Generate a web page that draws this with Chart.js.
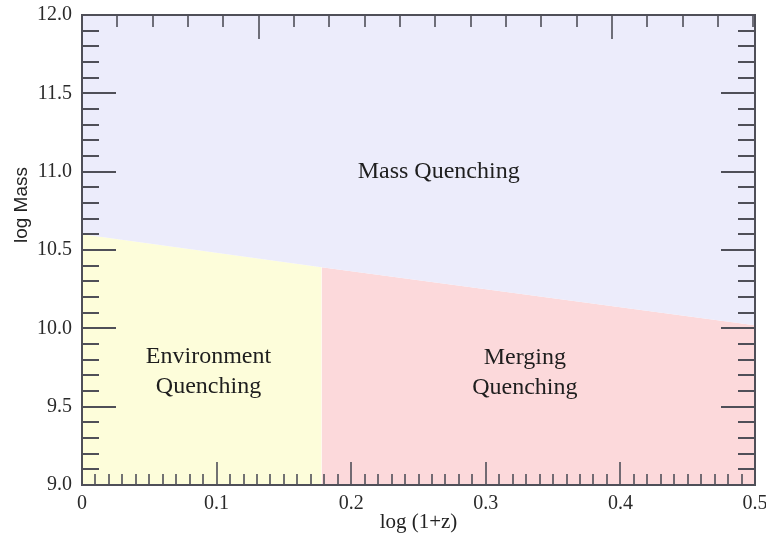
<!DOCTYPE html>
<html>
<head>
<meta charset="utf-8">
<script src="https://cdn.jsdelivr.net/npm/chart.js@4/dist/chart.umd.min.js"></script>
<style>
  html, body { margin: 0; padding: 0; background: #ffffff; }
  #wrap { width: 766px; height: 542px; }
</style>
</head>
<body>
<div id="wrap"><canvas id="c" width="766" height="542"></canvas></div>
<script>
// Boundary between quenching regimes: log Mass threshold against log(1+z)
const boundaryX = [0, 0.178, 0.5];
const boundaryMass = [10.6, 10.39, 10.02];

// Axis ranges and tick labels
const xTickLabels = ['0', '0.1', '0.2', '0.3', '0.4', '0.5'];
const yTickLabels = ['9.0', '9.5', '10.0', '10.5', '11.0', '11.5', '12.0'];

// Region names and where they sit (data coordinates)
const regionNames = [['Mass Quenching'], ['Environment', 'Quenching'], ['Merging', 'Quenching']];
const regionX = [0.265, 0.094, 0.329];
const regionY = [11.0, 9.72, 9.715];

const colMass = '#ececfb';
const colEnv = '#fdfdda';
const colMerge = '#fcd9db';
const axisColor = '#4f4f58';
const serif = '"Liberation Serif", "Times New Roman", serif';
const sans = '"Liberation Sans", Arial, sans-serif';

const pts = (i0, i1) => boundaryX.slice(i0, i1 + 1).map((x, k) => ({ x, y: boundaryMass[i0 + k] }));

// keep tick labels from widening the outer margins
const noLabelPadding = (s) => { s.paddingTop = 0; s.paddingBottom = 0; s.paddingLeft = 0; s.paddingRight = 0; };

const decorations = {
  id: 'decorations',
  afterDatasetsDraw(chart) {
    const { ctx, chartArea: a, scales: { x, y } } = chart;
    ctx.save();
    ctx.strokeStyle = axisColor;
    ctx.lineCap = 'butt';
    const seg = (x1, y1, x2, y2) => { ctx.beginPath(); ctx.moveTo(x1, y1); ctx.lineTo(x2, y2); ctx.stroke(); };

    // left and right ticks: minor every 0.1, major every 0.5
    ctx.lineWidth = 2;
    for (let i = 1; i < 30; i++) {
      const py = Math.round(y.getPixelForValue(9 + i * 0.1));
      const len = i % 5 === 0 ? 34 : 17;
      seg(a.left, py, a.left + len, py);
      seg(a.right, py, a.right - len, py);
    }
    // bottom ticks: minor every 0.01, major every 0.1
    ctx.lineWidth = 1.6;
    for (let i = 1; i < 50; i++) {
      const px = Math.round(x.getPixelForValue(i * 0.01));
      const len = i % 10 === 0 ? 23 : 11;
      seg(px, a.bottom, px, a.bottom - len);
    }
    // top ticks
    const topStep = 0.02625;
    for (let k = 1; k * topStep < 0.5; k++) {
      const px = Math.round(x.getPixelForValue(k * topStep));
      const len = k % 10 === 5 ? 24 : 12;
      seg(px, a.top, px, a.top + len);
    }
    // frame
    ctx.lineWidth = 2;
    ctx.strokeRect(a.left, a.top, a.right - a.left, a.bottom - a.top);

    // region names
    ctx.fillStyle = '#1e1e1e';
    ctx.font = '24px ' + serif;
    ctx.textAlign = 'center';
    ctx.textBaseline = 'middle';
    regionNames.forEach((lines, i) => {
      const cx = x.getPixelForValue(regionX[i]);
      const cy = y.getPixelForValue(regionY[i]);
      const lh = 30;
      lines.forEach((t, j) => ctx.fillText(t, cx, cy + (j - (lines.length - 1) / 2) * lh));
    });

    // axis titles
    ctx.fillStyle = '#222222';
    ctx.font = '21px ' + serif;
    ctx.fillText('log (1+z)', (a.left + a.right) / 2, 522);
    ctx.save();
    ctx.translate(22, 205);
    ctx.rotate(-Math.PI / 2);
    ctx.font = '19px ' + sans;
    ctx.fillText('log Mass', 0, 0);
    ctx.restore();
    ctx.restore();
  }
};

new Chart(document.getElementById('c'), {
  type: 'line',
  data: {
    datasets: [
      { data: pts(0, 2), fill: 'end', backgroundColor: colMass, borderWidth: 0, pointRadius: 0 },
      { data: pts(0, 1), fill: 'start', backgroundColor: colEnv, borderWidth: 0, pointRadius: 0 },
      { data: pts(1, 2), fill: 'start', backgroundColor: colMerge, borderWidth: 0, pointRadius: 0 }
    ]
  },
  options: {
    responsive: false,
    animation: false,
    layout: { padding: { left: 0, top: 15, right: 11, bottom: 0 } },
    plugins: { legend: { display: false }, tooltip: { enabled: false } },
    scales: {
      x: {
        type: 'linear', min: 0, max: 0.5,
        grid: { display: false, drawTicks: false },
        border: { display: false },
        ticks: {
          stepSize: 0.1, padding: 7, color: '#2a2a2a', maxRotation: 0,
          font: { family: serif, size: 20 },
          callback: (v) => xTickLabels[Math.round(v * 10)]
        },
        afterFit: (s) => { s.height = 57; noLabelPadding(s); }
      },
      y: {
        type: 'linear', min: 9, max: 12,
        grid: { display: false, drawTicks: false },
        border: { display: false },
        ticks: {
          stepSize: 0.5, padding: 10, color: '#2a2a2a',
          font: { family: serif, size: 20 },
          callback: (v) => yTickLabels[Math.round((v - 9) * 2)]
        },
        afterFit: (s) => { s.width = 82; noLabelPadding(s); }
      }
    }
  },
  plugins: [decorations]
});
</script>
</body>
</html>
